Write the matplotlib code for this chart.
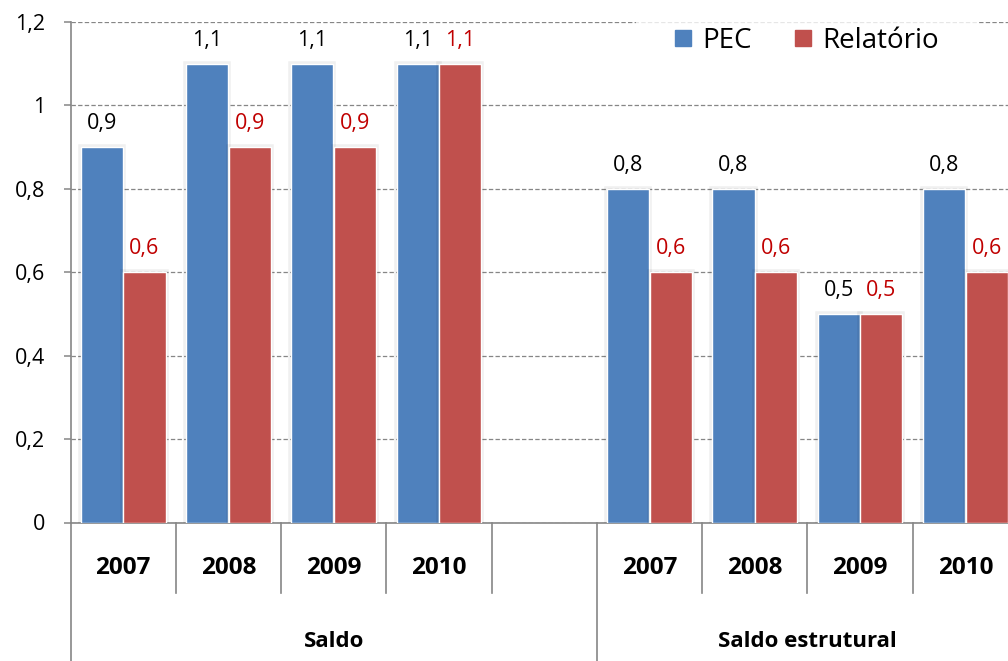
import matplotlib
matplotlib.use("Agg")
import matplotlib.pyplot as plt
import matplotlib.patheffects as pe
from matplotlib.lines import Line2D
import matplotlib.transforms as mtransforms
import numpy as np

plt.rcParams['font.family'] = ['Open Sans', 'DejaVu Sans']

# ---- data ----
years = ['2007', '2008', '2009', '2010']
groups = ['Saldo', 'Saldo estrutural']
pec_saldo = [0.9, 1.1, 1.1, 1.1]
rel_saldo = [0.6, 0.9, 0.9, 1.1]
pec_estrutural = [0.8, 0.8, 0.5, 0.8]
rel_estrutural = [0.6, 0.6, 0.5, 0.6]
series_names = ['PEC', 'Relatório']
ytick_values = [0, 0.2, 0.4, 0.6, 0.8, 1.0, 1.2]
ytick_labels = ['0', '0,2', '0,4', '0,6', '0,8', '1', '1,2']

BLUE = '#4F81BD'
RED = '#C0504D'
LABEL_RED = '#C00000'
GRID = '#868686'

fig = plt.figure(figsize=(10.08, 6.61), dpi=100)
ax = fig.add_axes([70.5 / 1008, 138.5 / 661, 947.5 / 1008, 500.5 / 661])

n = len(years)
pec_groups = [pec_saldo, pec_estrutural]
rel_groups = [rel_saldo, rel_estrutural]

width = 0.4
off = 0.2025
shadow = [pe.Stroke(linewidth=4, foreground='black', alpha=0.06), pe.Normal()]


def fmt(v):
    return ('%g' % v).replace('.', ',')


for g in range(len(groups)):
    x0 = g * (n + 1)
    xs = np.arange(n) + x0
    b1 = ax.bar(xs - off, pec_groups[g], width, color=BLUE, edgecolor='white', linewidth=1.0, zorder=3)
    b2 = ax.bar(xs + off, rel_groups[g], width, color=RED, edgecolor='white', linewidth=1.0, zorder=3)
    for b in list(b1) + list(b2):
        b.set_path_effects(shadow)
    for x, v in zip(xs, pec_groups[g]):
        ax.annotate(fmt(v), (x - off, v), xytext=(0, 18), textcoords='offset pixels',
                    ha='center', va='baseline', fontsize=15.5, color='black', zorder=5)
    for x, v in zip(xs, rel_groups[g]):
        ax.annotate(fmt(v), (x + off, v), xytext=(0, 18), textcoords='offset pixels',
                    ha='center', va='baseline', fontsize=15.5, color=LABEL_RED, zorder=5)

total = len(groups) * (n + 1) - 1
ax.set_xlim(-0.5, total - 0.5)
ax.set_ylim(0, 1.2)
ax.set_yticks(ytick_values)
ax.set_yticklabels(ytick_labels)
ax.tick_params(axis='y', length=5, width=1.1, color=GRID, pad=13.5, labelsize=15.5)
ax.set_xticks([])

ax.set_axisbelow(True)
ax.yaxis.grid(True, color=GRID, linestyle=(0, (3.5, 1.8)), linewidth=0.9)

for side in ['top', 'right']:
    ax.spines[side].set_visible(False)
ax.spines['left'].set_color(GRID)
ax.spines['left'].set_linewidth(1.2)
ax.spines['bottom'].set_color(GRID)
ax.spines['bottom'].set_linewidth(1.2)

# multi-level category axis
trans = mtransforms.blended_transform_factory(ax.transData, ax.transAxes)
short_y = -(593 - 522.5) / 500.5
long_y = -(661 - 522.5) / 500.5
for g in range(len(groups)):
    x0 = g * (n + 1)
    ax.add_line(Line2D([x0 - 0.5, x0 - 0.5], [0, long_y], transform=trans, color=GRID,
                       linewidth=1.2, clip_on=False))
    for i in range(n):
        ax.text(x0 + i, -(574 - 522.5) / 500.5, years[i], transform=trans, ha='center',
                va='baseline', fontsize=17.5, fontweight='bold')
        ax.add_line(Line2D([x0 + i + 0.5, x0 + i + 0.5], [0, short_y], transform=trans,
                           color=GRID, linewidth=1.2, clip_on=False))
    gc = x0 + (n + 1) / 2 - 0.5 if g == 0 else x0 + (n - 1) / 2
    ax.text(gc, -(647 - 522.5) / 500.5, groups[g], transform=trans, ha='center',
            va='baseline', fontsize=16, fontweight='bold')

# legend
handles = [Line2D([], [], marker='s', linestyle='none', markersize=11.5, color=BLUE),
           Line2D([], [], marker='s', linestyle='none', markersize=11.5, color=RED)]
leg = fig.legend(handles, series_names, loc='center',
                 bbox_to_anchor=(807 / 1008, 1 - 41 / 661), bbox_transform=fig.transFigure,
                 ncol=2, fontsize=20, frameon=True, fancybox=False, handlelength=0.6,
                 handletextpad=0.4, columnspacing=1.55, borderpad=1.4)
leg.get_frame().set_facecolor('white')
leg.get_frame().set_edgecolor('none')
leg.set_zorder(10)

fig.savefig('out.png', dpi=100)
